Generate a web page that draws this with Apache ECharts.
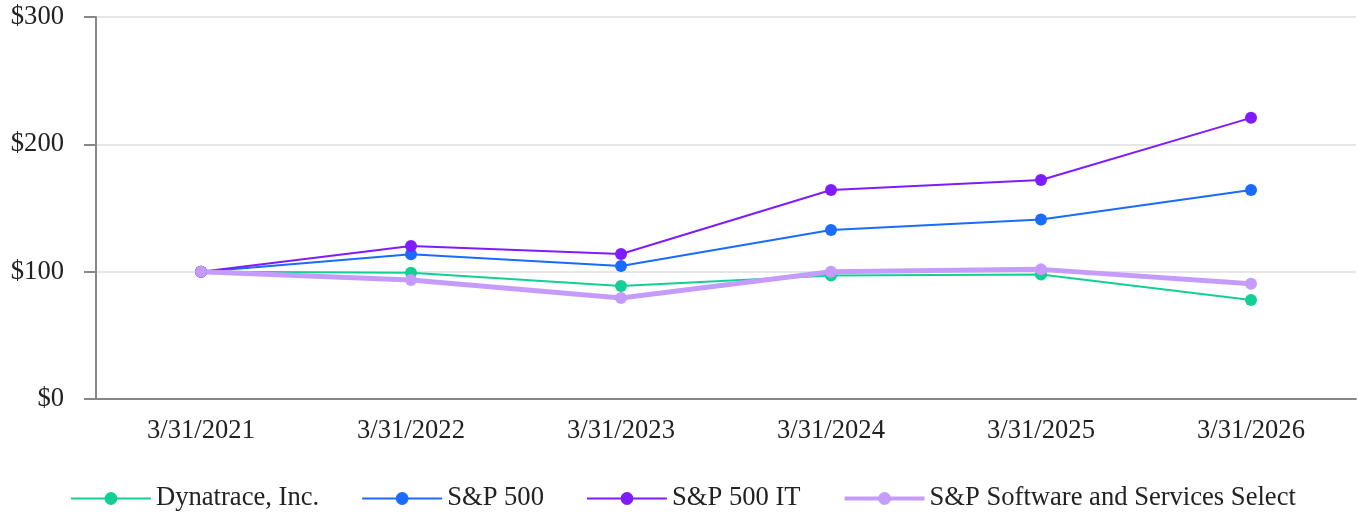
<!DOCTYPE html>
<html><head><meta charset="utf-8">
<script src="https://cdn.jsdelivr.net/npm/echarts@6/dist/echarts.min.js"></script>
<style>html,body{margin:0;padding:0;background:#fff}#c{width:1358px;height:515px}</style>
</head><body><div id="c"></div>
<script>
const categories = ['3/31/2021','3/31/2022','3/31/2023','3/31/2024','3/31/2025','3/31/2026'];
const dynatrace = [100, 99.2, 88.7, 96.9, 97.8, 77.7];
const sp500 = [100, 113.6, 104.5, 132.7, 141, 164.1];
const sp500IT = [100, 120.2, 113.9, 164.1, 172, 220.8];
const spSoftware = [100, 93.5, 79.3, 100, 101.8, 90.6];
const yTicks = [0, 100, 200, 300];

const font = 'Liberation Serif, Times New Roman, serif';
const colors = ['#14cf94', '#1a6bff', '#7f1cff', '#c59cfb'];
const names = ['Dynatrace, Inc.','S&P 500','S&P 500 IT','S&P Software and Services Select'];
const widths = [2, 2, 2, 5];
function s(i, data) {
  return {name:names[i], type:'line', data, symbol:'circle', symbolSize:12,
    itemStyle:{color:colors[i]}, lineStyle:{color:colors[i], width:widths[i]}, emphasis:{disabled:true}};
}
const chart = echarts.init(document.getElementById('c'));
chart.setOption({
  animation:false,
  textStyle:{fontFamily:font},
  grid:{left:96, right:2, top:17, bottom:116},
  legend:{top:485, left:70, padding:0, itemWidth:80, itemHeight:16, itemGap:42,
    textStyle:{fontFamily:font, fontSize:26.6, color:'#222', padding:[0,0,0,0]},
    data:names.map((n,i)=>({name:n, lineStyle:{width:widths[i]===5?4:2, color:colors[i]}, itemStyle:{color:colors[i]}}))},
  xAxis:{type:'category', data:categories, boundaryGap:true,
    axisLine:{lineStyle:{color:'#888', width:2}},
    axisTick:{alignWithLabel:true, length:10, lineStyle:{color:'#888', width:2}},
    axisLabel:{fontFamily:font, fontSize:26.6, color:'#222', margin:19}},
  yAxis:{type:'value', min:0, max:300, interval:100,
    axisLine:{show:true, lineStyle:{color:'#888', width:2}},
    axisTick:{show:true, length:12, lineStyle:{color:'#888', width:2}},
    splitLine:{lineStyle:{color:'#e6e6e6', width:2}},
    axisLabel:{fontFamily:font, fontSize:26.6, color:'#222', margin:32,
      formatter:v => yTicks.includes(v) ? '$' + v : ''}},
  series:[
    s(0, dynatrace), s(1, sp500), s(2, sp500IT), s(3, spSoftware)
  ]
});
</script></body></html>
